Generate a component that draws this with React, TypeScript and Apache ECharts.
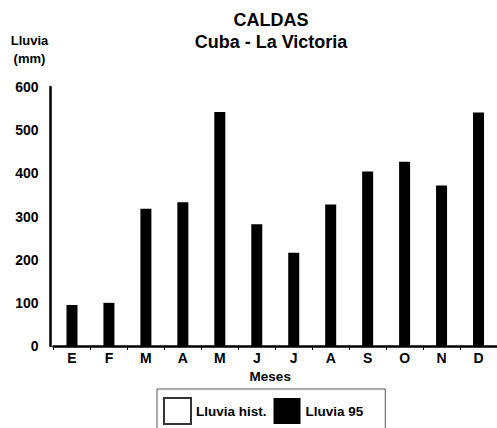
import React, { useEffect, useRef } from "react";
import * as echarts from "echarts";

// Monthly rainfall, Cuba - La Victoria (Caldas)
const months: string[] = ["E", "F", "M", "A", "M", "J", "J", "A", "S", "O", "N", "D"];
const lluvia95: number[] = [95, 100, 318, 333, 542, 282, 216, 328, 404, 427, 372, 541];
const lluviaHist: (number | null)[] = [];
const yTicks = { min: 0, max: 600, interval: 100 };

const FONT = "'Liberation Sans', Arial, Helvetica, sans-serif";

export default function App() {
  const ref = useRef<HTMLDivElement>(null);

  useEffect(() => {
    if (!ref.current) return;
    const chart = echarts.init(ref.current, undefined, { renderer: "svg" });
    chart.setOption({
      animation: false,
      backgroundColor: "#ffffff",
      textStyle: { fontFamily: FONT, fontWeight: "bold", color: "#000" },
      graphic: [
        {
          type: "text",
          style: {
            text: "CALDAS\nCuba - La Victoria",
            x: 271,
            y: 9,
            textAlign: "center",
            textVerticalAlign: "top",
            font: `bold 18px ${FONT}`,
            lineHeight: 22,
            fill: "#000",
          },
        },
        {
          type: "text",
          style: {
            text: "Lluvia\n(mm)",
            x: 29.5,
            y: 31,
            textAlign: "center",
            textVerticalAlign: "top",
            font: `bold 13px ${FONT}`,
            lineHeight: 18,
            fill: "#000",
          },
        },
      ],
      legend: {
        left: 157,
        top: 389,
        orient: "horizontal",
        padding: [8, 22, 4, 6],
        itemWidth: 27,
        itemHeight: 26,
        itemGap: 7,
        borderColor: "#555",
        borderWidth: 1,
        icon: "rect",
        textStyle: { fontFamily: FONT, fontWeight: "bold", fontSize: 13.5, color: "#000" },
        data: ["Lluvia hist.", "Lluvia 95"],
      },
      grid: { left: 53.5, top: 87, width: 448, height: 259, containLabel: false },
      xAxis: {
        type: "category",
        data: months,
        name: "Meses",
        nameLocation: "middle",
        nameGap: 20,
        nameTextStyle: {
          fontFamily: FONT,
          fontWeight: "bold",
          fontSize: 13.5,
          color: "#000",
          padding: [0, 10, 0, 0],
        },
        axisLine: { lineStyle: { color: "#000", width: 2.5 } },
        axisTick: { show: true, length: 4, lineStyle: { color: "#000", width: 1 } },
        axisLabel: { margin: 5, fontFamily: FONT, fontWeight: "bold", fontSize: 14, color: "#000" },
        splitLine: { show: false },
      },
      yAxis: {
        type: "value",
        min: yTicks.min,
        max: yTicks.max,
        interval: yTicks.interval,
        offset: 3,
        axisLine: { show: true, lineStyle: { color: "#000", width: 2.5 } },
        axisTick: { show: false },
        axisLabel: { margin: 12, fontFamily: FONT, fontWeight: "bold", fontSize: 14, color: "#000" },
        splitLine: { show: false },
      },
      series: [
        {
          name: "Lluvia hist.",
          type: "bar",
          data: lluviaHist,
          barWidth: 11,
          barGap: "-100%",
          itemStyle: { color: "#ffffff", borderColor: "#333", borderWidth: 1 },
        },
        {
          name: "Lluvia 95",
          type: "bar",
          data: lluvia95,
          barWidth: 11,
          barGap: "-100%",
          itemStyle: { color: "#000000" },
        },
      ],
    });
    return () => chart.dispose();
  }, []);

  return (
    <div
      ref={ref}
      style={{ position: "fixed", left: 0, top: 0, width: 497, height: 428, background: "#fff" }}
    />
  );
}
